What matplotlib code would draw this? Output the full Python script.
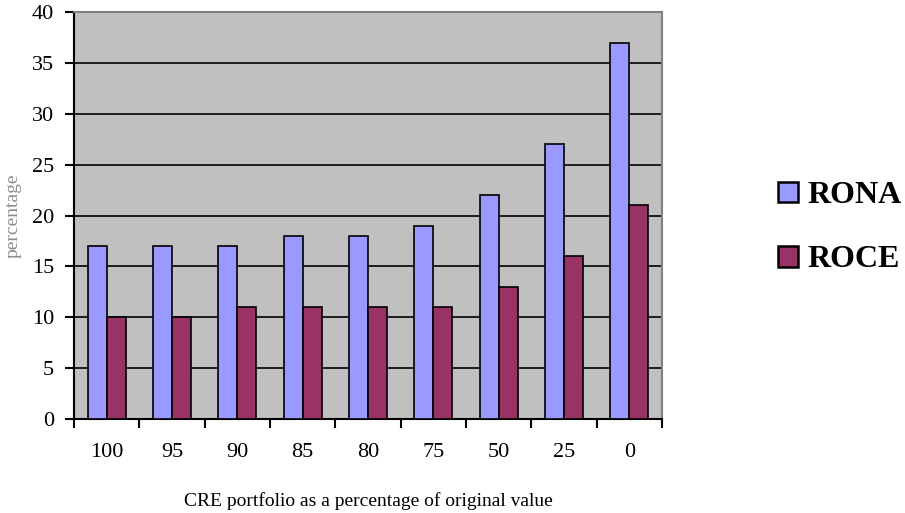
import numpy as np
import matplotlib.pyplot as plt
from matplotlib.patches import Patch

# values
categories = ['100', '95', '90', '85', '80', '75', '50', '25', '0']
rona = [17, 17, 17, 18, 18, 19, 22, 27, 37]
roce = [10, 10, 11, 11, 11, 11, 13, 16, 21]

plt.rcParams['font.family'] = ['Liberation Serif', 'DejaVu Serif']

fig = plt.figure(figsize=(9.05, 5.13), dpi=100)
ax = fig.add_axes([0.0818, 0.1832, 0.6497, 0.7934])
ax.set_facecolor('#C0C0C0')

x = np.arange(len(categories))
w = 0.29
ax.bar(x - w / 2, rona, w, color='#9999FF', edgecolor='black', linewidth=1.2, zorder=3)
ax.bar(x + w / 2, roce, w, color='#993366', edgecolor='black', linewidth=1.2, zorder=3)

ax.set_xlim(-0.5, len(categories) - 0.5)
ax.set_ylim(0, 40)
ax.set_yticks(range(0, 41, 5))
ax.yaxis.grid(True, color='black', linewidth=1.2, zorder=1)
ax.set_axisbelow(True)

# x ticks at category boundaries, labels centred
ax.set_xticks(np.arange(-0.5, len(categories), 1.0))
ax.set_xticklabels([])
ax.set_xticks(x, minor=True)
ax.set_xticklabels(categories, minor=True)
ax.tick_params(axis='x', which='minor', length=0, pad=17, labelsize=16)
ax.tick_params(axis='x', which='major', length=6.5, width=1.5, direction='out')
ax.tick_params(axis='y', length=6.5, width=1.5, direction='out', labelsize=16, pad=8)

ax.spines['left'].set_linewidth(1.5)
ax.spines['bottom'].set_linewidth(1.5)
ax.spines['top'].set_color('#808080')
ax.spines['right'].set_color('#808080')
ax.spines['top'].set_linewidth(1.5)
ax.spines['right'].set_linewidth(1.5)

ax.set_xlabel('CRE portfolio as a percentage of original value', fontsize=14, labelpad=22)
fig.text(0.014, 0.579, 'percentage', rotation=90, fontsize=14, color='#707070',
         ha='center', va='center', alpha=0.8)

handles = [Patch(facecolor='#9999FF', edgecolor='black', linewidth=1.8, label='RONA'),
           Patch(facecolor='#993366', edgecolor='black', linewidth=1.8, label='ROCE')]
fig.legend(handles=handles, loc='center left', bbox_to_anchor=(0.86, 0.556),
           frameon=False, prop={'size': 23, 'weight': 'bold'},
           borderpad=0, borderaxespad=0,
           handlelength=0.63, handleheight=0.63, handletextpad=0.28, labelspacing=1.1)

fig.savefig('out.png', dpi=100)
